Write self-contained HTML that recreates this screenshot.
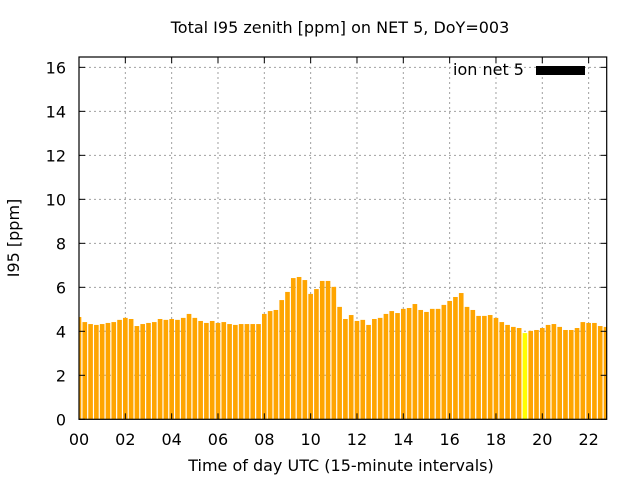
<!DOCTYPE html>
<html><head><meta charset="utf-8"><style>
body{margin:0;background:#fff}
svg{display:block;font-family:"DejaVu Sans","Liberation Sans",sans-serif}
</style></head><body>
<svg id="chart" width="640" height="480">
<text x="340" y="33" font-size="16" text-anchor="middle">Total I95 zenith [ppm] on NET 5, DoY=003</text>
<text x="341" y="471" font-size="16" text-anchor="middle">Time of day UTC (15-minute intervals)</text>
<text transform="translate(19,238) rotate(-90)" font-size="16" text-anchor="middle">I95 [ppm]</text>
<g id="grid"></g><g id="bars"></g><g id="axes"></g>
<g>
<text x="453" y="75" font-size="16">ion net 5</text>
<rect x="536" y="66" width="49" height="9" fill="#000"/>
</g>
</svg>
<script>
const values=[4.65,4.42,4.33,4.29,4.33,4.38,4.42,4.52,4.61,4.56,4.24,4.33,4.38,4.42,4.56,4.52,4.56,4.52,4.61,4.79,4.61,4.47,4.38,4.47,4.38,4.42,4.33,4.29,4.33,4.33,4.33,4.33,
4.79,4.92,4.97,5.42,5.79,6.42,6.47,6.33,5.70,5.92,6.29,6.29,6.02,5.11,4.56,4.74,4.47,4.52,4.29,4.56,4.61,4.79,4.92,4.83,5.02,5.06,5.24,4.97,4.88,5.02,5.02,
5.20,5.38,5.56,5.74,5.11,4.97,4.70,4.70,4.74,4.61,4.42,4.29,4.20,4.15,3.92,4.02,4.06,4.15,4.29,4.33,4.20,4.06,4.06,4.15,4.42,4.38,4.38,4.24,4.20];
const highlightIndex=[77];
const yTicks=[0,2,4,6,8,10,12,14,16];
const xTicks=["00","02","04","06","08","10","12","14","16","18","20","22"];
const L=79,R=606.7,T=57,B=419.3,XMAX=22.78,YMAX=16.47;
const xs=h=>L+h/XMAX*(R-L), ys=v=>B-v/YMAX*(B-T);
const NS="http://www.w3.org/2000/svg";
function mk(tag,attrs,parent){const e=document.createElementNS(NS,tag);for(const k in attrs)e.setAttribute(k,attrs[k]);parent.appendChild(e);return e;}
const grid=document.getElementById('grid'),bars=document.getElementById('bars'),axes=document.getElementById('axes');
const bw=(R-L)/XMAX*0.25*0.8;
mk('clipPath',{id:'pc'},bars);
mk('rect',{x:L,y:T,width:R-L,height:B-T},document.getElementById('pc'));
const bg=mk('g',{'clip-path':'url(#pc)'},bars);
values.forEach((v,i)=>{
 const h=i*0.25;
 const r=mk('rect',{x:xs(h)-bw/2,y:ys(v),width:bw,height:B-ys(v),fill:highlightIndex.includes(i)?'#ffff00':'#ffa500'},bg);
 
 
});
yTicks.forEach(t=>{
 const y=ys(t);
 if(t>0&&t<16.4){const g=mk('line',{x1:L,x2:R,y1:y,y2:y,stroke:'#a0a0a0','stroke-dasharray':'2,3'},grid);
 }
 mk('line',{x1:L,x2:L+6,y1:y,y2:y,stroke:'#000'},axes);
 mk('line',{x1:R,x2:R-6,y1:y,y2:y,stroke:'#000'},axes);
 const tx=mk('text',{x:66,y:y+6,'font-size':16,'text-anchor':'end'},axes);tx.textContent=t;
 
});
xTicks.forEach((lab,i)=>{
 const x=xs(i*2);
 if(i>0){const g=mk('line',{x1:x,x2:x,y1:T,y2:B,stroke:'#a0a0a0','stroke-dasharray':'2,3'},grid);
 }
 mk('line',{x1:x,x2:x,y1:B,y2:B-6,stroke:'#000'},axes);
 mk('line',{x1:x,x2:x,y1:T,y2:T+6,stroke:'#000'},axes);
 const tx=mk('text',{x:x,y:445,'font-size':16,'text-anchor':'middle'},axes);tx.textContent=lab;
 
});
const fr=mk('rect',{x:L,y:T,width:R-L,height:B-T,fill:'none',stroke:'#000','stroke-width':1.2},axes);

</script>
</body></html>
